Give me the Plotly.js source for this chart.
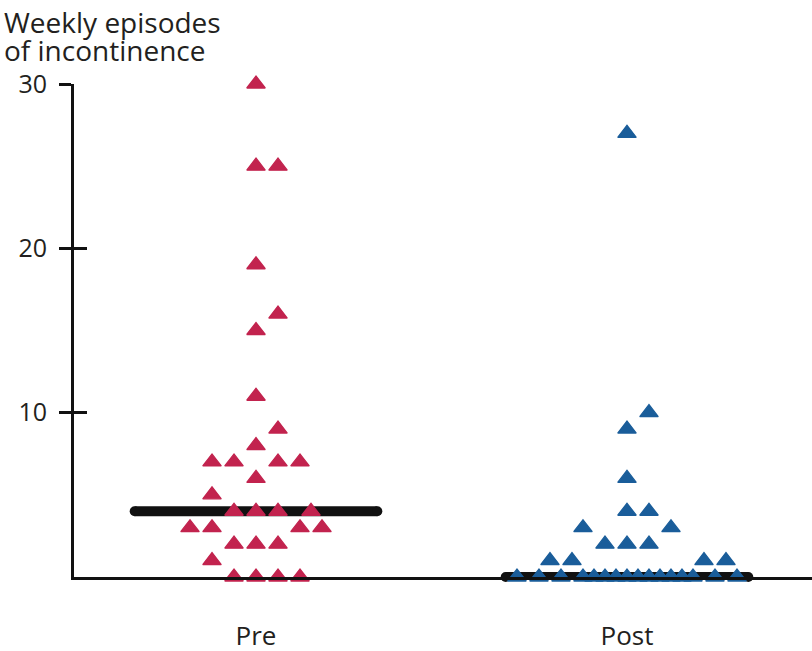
<!DOCTYPE html>
<html>
<head>
<meta charset="utf-8">
<script src="https://cdn.plot.ly/plotly-3.0.1.min.js"></script>
<style>
  html, body { margin: 0; padding: 0; background: #ffffff; }
  #chart { width: 812px; height: 651px; }
</style>
</head>
<body>
<div id="chart"></div>
<script>
// Weekly episodes of incontinence per patient, before and after treatment
const groups = ['Pre', 'Post'];
const preEpisodes = [30, 25, 25, 19, 16, 15, 11, 9, 8, 7, 7, 7, 7, 6, 5,
  4, 4, 4, 4, 3, 3, 3, 3, 2, 2, 2, 1, 0, 0, 0, 0];
const postEpisodes = [27, 10, 9, 6, 4, 4, 3, 3, 2, 2, 2, 1, 1, 1, 1,
  0, 0, 0, 0, 0, 0, 0, 0, 0, 0, 0, 0, 0, 0, 0, 0];
const yTickValues = [10, 20, 30];

const groupColors = ['#C2234E', '#1A5D9A'];
const textColor = '#231F20';
const FONT = 'Open Sans, Noto Sans, sans-serif';

// Horizontal layout of the scatter columns (x axis units)
const SLOT = 0.0593;           // spacing between neighbouring points in a row
const MEDIAN_HALF = 0.327;     // half-length of the median bar
const SWARM_HALF = [3, 5];     // widest slot offset allowed for each group

// Arrange equal values side by side; a point avoids sitting directly on top
// of a point from the row just below it when there is room to do so.
function swarmOffsets(values, halfWidth) {
  const rows = new Map();
  values.forEach((v, i) => {
    if (!rows.has(v)) rows.set(v, []);
    rows.get(v).push(i);
  });
  const ints = [0];
  for (let k = 1; k <= halfWidth; k++) ints.push(k, -k);
  const halves = [];
  for (let k = 0; k < halfWidth; k++) halves.push(k + 0.5, -(k + 0.5));

  const placed = new Map();
  const offsets = new Array(values.length);
  [...rows.keys()].sort((a, b) => a - b).forEach(v => {
    const idx = rows.get(v);
    const below = placed.get(v - 1) || [];
    const row = [];
    const fits = p => row.every(q => Math.abs(q - p) >= 1);
    const passes = [
      [ints, p => fits(p) && below.every(q => Math.abs(q - p) >= 1)],
      [halves, p => fits(p) && !below.includes(p)],
      [ints, p => fits(p)],
      [halves, p => !row.includes(p)]
    ];
    for (const [cands, ok] of passes) {
      for (const p of cands) {
        if (row.length >= idx.length) break;
        if (ok(p)) row.push(p);
      }
    }
    let extra = halfWidth + 1;
    while (row.length < idx.length) { row.push(extra); extra += 1; }
    idx.forEach((i, k) => { offsets[i] = row[k]; });
    placed.set(v, row);
  });
  return offsets;
}

function median(values) {
  const s = [...values].sort((a, b) => a - b);
  const m = Math.floor(s.length / 2);
  return s.length % 2 ? s[m] : (s[m - 1] + s[m]) / 2;
}

const series = [preEpisodes, postEpisodes];
const traces = [];

// Median bars (drawn first so the points sit on top of them)
series.forEach((vals, g) => {
  const med = median(vals);
  traces.push({
    type: 'scatter',
    mode: 'lines+markers',
    x: [g - MEDIAN_HALF, g + MEDIAN_HALF],
    y: [med, med],
    line: { color: '#111111', width: 10 },
    marker: { color: '#111111', size: 10, symbol: 'circle' },
    hoverinfo: 'skip',
    showlegend: false,
    cliponaxis: false
  });
});

// Individual patients
series.forEach((vals, g) => {
  const offs = swarmOffsets(vals, SWARM_HALF[g]);
  traces.push({
    type: 'scatter',
    mode: 'markers',
    name: groups[g],
    x: vals.map((v, i) => g + offs[i] * SLOT),
    y: vals,
    yaxis: 'y2',
    marker: {
      symbol: 'triangle-up',
      size: 16,
      color: groupColors[g],
      line: { color: groupColors[g], width: 1.3 }
    },
    showlegend: false,
    cliponaxis: false
  });
});

const layout = {
  width: 812,
  height: 651,
  margin: { l: 74, r: 0, t: 84, b: 74, pad: 0 },
  paper_bgcolor: '#ffffff',
  plot_bgcolor: '#ffffff',
  showlegend: false,
  font: { family: FONT, color: textColor },
  xaxis: {
    range: [-0.4906, 1.4987],
    tickvals: groups.map((_, i) => i),
    ticktext: groups,
    ticks: '',
    showline: true,
    linewidth: 3,
    linecolor: '#111111',
    showgrid: false,
    zeroline: false,
    tickfont: { family: FONT, size: 26, color: textColor },
    ticklabelstandoff: 34,
    fixedrange: true
  },
  yaxis: {
    range: [0, 30],
    tickvals: yTickValues,
    ticktext: yTickValues.map(String),
    ticks: 'outside',
    ticklen: 12,
    tickwidth: 3,
    tickcolor: '#111111',
    showline: true,
    linewidth: 3,
    linecolor: '#111111',
    showgrid: false,
    zeroline: false,
    tickfont: { family: FONT, size: 25, color: textColor },
    ticklabelstandoff: 7,
    fixedrange: true
  },
  yaxis2: {
    overlaying: 'y',
    side: 'left',
    range: [0, 30],
    tickvals: yTickValues,
    ticks: 'inside',
    ticklen: 13,
    tickwidth: 3,
    tickcolor: '#111111',
    showticklabels: false,
    showline: false,
    showgrid: false,
    zeroline: false,
    fixedrange: true
  },
  annotations: [
    {
      text: 'Weekly episodes',
      xref: 'paper', yref: 'paper',
      x: -0.0962, y: 1.126,
      xanchor: 'left', yanchor: 'middle',
      borderpad: 0,
      showarrow: false,
      font: { family: FONT, size: 28, color: textColor }
    },
    {
      text: 'of incontinence',
      xref: 'paper', yref: 'paper',
      x: -0.0962, y: 1.068,
      xanchor: 'left', yanchor: 'middle',
      borderpad: 0,
      showarrow: false,
      font: { family: FONT, size: 28, color: textColor }
    }
  ]
};

Plotly.newPlot('chart', traces, layout, { staticPlot: true, displayModeBar: false });
</script>
</body>
</html>
